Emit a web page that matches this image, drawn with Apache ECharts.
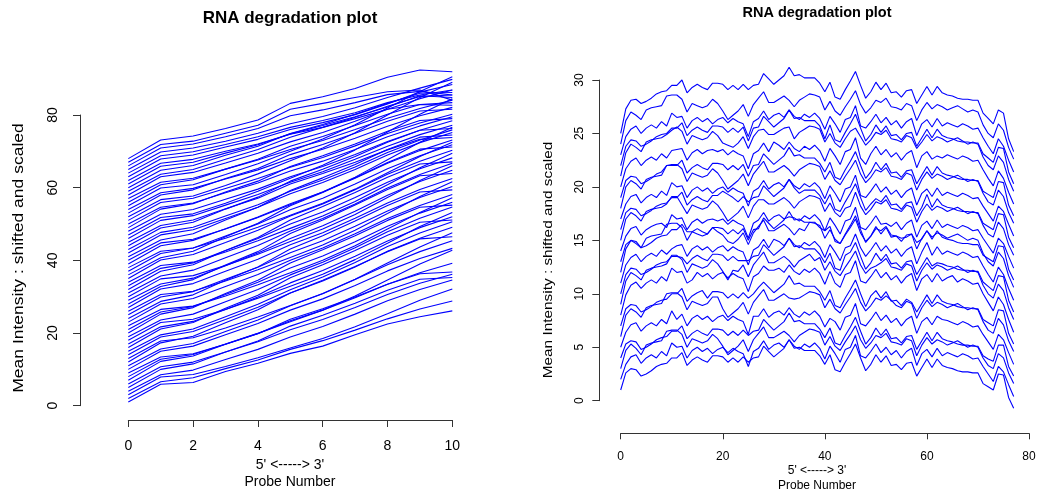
<!DOCTYPE html>
<html>
<head>
<meta charset="utf-8">
<script src="https://cdn.jsdelivr.net/npm/echarts@6/dist/echarts.min.js"></script>
<style>
html, body { margin: 0; padding: 0; background: #ffffff; }
#chart { width: 1039px; height: 492px; }
</style>
</head>
<body>
<div id="chart"></div>
<script>
// Probe positions (5' -> 3') for the two arrays
const probeLeft = [0, 1, 2, 3, 4, 5, 6, 7, 8, 9, 10];
const probeRight = [0, 1, 2, 3, 4, 5, 6, 7, 8, 9, 10, 11, 12, 13, 14, 15, 16, 17, 18, 19, 20, 21, 22, 23, 24, 25, 26, 27, 28, 29, 30, 31, 32, 33, 34, 35, 36, 37, 38, 39, 40, 41, 42, 43, 44, 45, 46, 47, 48, 49, 50, 51, 52, 53, 54, 55, 56, 57, 58, 59, 60, 61, 62, 63, 64, 65, 66, 67, 68, 69, 70, 71, 72, 73, 74, 75, 76, 77];

// Tick values
const leftXTicks = [0, 2, 4, 6, 8, 10];
const leftYTicks = [0, 20, 40, 60, 80];
const rightXTicks = [0, 20, 40, 60, 80];
const rightYTicks = [0, 5, 10, 15, 20, 25, 30];

// Text
const plotTitle = 'RNA degradation plot';
const xLabelArrow = "5' <-----> 3'";
const xLabelName = 'Probe Number';
const yLabelName = 'Mean Intensity : shifted and scaled';

// Shifted and scaled mean intensity per sample (one row per array, 11 probes)
const linesLeft = [
  [1, 5.9, 6.4, 9.4, 11.7, 14.4, 16.4, 19.5, 22.5, 24.5, 26.1],
  [2, 6.6, 7.7, 10.2, 12.6, 15.5, 17.9, 20.8, 23.9, 26.6, 28.8],
  [3, 7.9, 8.6, 10.8, 13.2, 15.9, 18.5, 21.7, 25.3, 29.0, 32.1],
  [4, 8.5, 9.8, 12.7, 15.5, 18.9, 21.8, 25.2, 28.9, 32.0, 34.6],
  [5, 10.0, 11.5, 14.8, 17.8, 21.9, 24.9, 28.2, 31.8, 34.8, 35.3],
  [6, 10.7, 12.0, 14.8, 17.6, 20.9, 23.7, 27.0, 30.6, 33.7, 36.2],
  [7, 12.2, 13.7, 16.9, 19.8, 23.8, 26.7, 29.9, 33.4, 36.3, 36.8],
  [8, 12.8, 14.1, 17.0, 19.9, 23.4, 26.3, 29.7, 33.4, 36.6, 39.2],
  [9, 13.4, 14.3, 16.9, 19.9, 23.1, 26.3, 30.2, 34.6, 39.0, 42.8],
  [10, 15.0, 16.4, 19.5, 22.6, 26.3, 29.4, 33.1, 37.1, 40.5, 43.3],
  [11, 15.6, 17.1, 20.4, 23.6, 27.5, 30.8, 34.7, 38.8, 42.4, 45.4],
  [12, 17.3, 19.1, 22.8, 26.4, 31.0, 34.5, 38.3, 42.4, 45.9, 46.5],
  [13, 17.8, 18.7, 21.4, 24.4, 27.6, 30.9, 34.8, 39.3, 43.7, 47.6],
  [14, 18.9, 20.4, 23.7, 27.1, 31.0, 34.3, 38.2, 42.5, 46.1, 49.1],
  [15, 19.5, 21.1, 24.5, 27.9, 31.9, 35.4, 39.4, 43.8, 47.5, 50.6],
  [16, 21.1, 22.9, 26.8, 30.4, 35.2, 38.8, 42.7, 46.9, 50.5, 51.1],
  [17, 21.7, 23.2, 26.5, 29.9, 33.8, 37.2, 41.1, 45.3, 49.0, 52.0],
  [18, 22.9, 23.8, 26.5, 29.6, 32.9, 36.2, 40.2, 44.7, 49.3, 53.2],
  [19, 23.6, 25.2, 28.6, 32.0, 36.0, 39.5, 43.5, 47.9, 51.6, 54.7],
  [20, 25.2, 27.0, 30.9, 34.5, 39.3, 42.9, 46.8, 51.0, 54.6, 55.2],
  [21, 25.8, 27.3, 30.6, 34.0, 37.9, 41.2, 45.1, 49.4, 53.0, 56.0],
  [22, 26.5, 27.4, 30.2, 33.3, 36.6, 40.0, 44.0, 48.6, 53.2, 57.2],
  [23, 28.0, 29.5, 32.8, 36.1, 40.0, 43.4, 47.3, 51.5, 55.1, 58.1],
  [24, 28.7, 30.5, 34.5, 38.2, 43.1, 46.8, 50.8, 55.1, 58.8, 59.4],
  [25, 29.9, 31.4, 34.8, 38.1, 42.1, 45.4, 49.4, 53.6, 57.3, 60.3],
  [26, 30.6, 31.5, 34.3, 37.4, 40.8, 44.2, 48.3, 52.9, 57.6, 61.6],
  [27, 32.1, 33.6, 37.0, 40.3, 44.3, 47.6, 51.6, 55.8, 59.5, 62.5],
  [28, 32.8, 34.7, 38.7, 42.4, 47.4, 51.1, 55.2, 59.5, 63.3, 63.9],
  [29, 33.5, 35.1, 38.5, 42.0, 46.0, 49.5, 53.5, 57.9, 61.7, 64.8],
  [30, 34.9, 35.8, 38.6, 41.7, 45.2, 48.6, 52.6, 57.3, 62.0, 66.0],
  [31, 35.7, 37.3, 40.7, 44.1, 48.1, 51.5, 55.5, 59.9, 63.6, 66.7],
  [32, 37.0, 38.8, 42.7, 46.3, 51.1, 54.8, 58.7, 62.9, 66.5, 67.1],
  [33, 37.8, 39.3, 42.7, 46.0, 50.0, 53.3, 57.3, 61.5, 65.2, 68.2],
  [34, 38.6, 39.5, 42.3, 45.4, 48.8, 52.2, 56.2, 60.8, 65.5, 69.5],
  [35, 40.1, 41.6, 44.9, 48.3, 52.2, 55.5, 59.4, 63.7, 67.3, 70.3],
  [36, 40.7, 42.5, 46.5, 50.2, 55.0, 58.7, 62.7, 66.9, 70.6, 71.2],
  [37, 41.9, 43.4, 46.7, 50.0, 53.9, 57.1, 61.0, 65.2, 68.8, 71.8],
  [38, 42.5, 43.4, 46.1, 49.1, 52.4, 55.7, 59.6, 64.1, 68.6, 72.5],
  [39, 44.0, 45.5, 48.7, 51.9, 55.6, 58.8, 62.6, 66.7, 70.2, 73.1],
  [40, 44.8, 45.8, 48.6, 51.8, 55.3, 58.8, 62.9, 67.7, 72.5, 76.6],
  [41, 45.6, 47.3, 51.1, 54.6, 59.2, 62.7, 66.4, 70.5, 73.9, 74.5],
  [42, 47.0, 48.4, 51.5, 54.6, 58.3, 61.4, 65.0, 69.0, 72.4, 75.2],
  [43, 47.7, 49.1, 52.2, 55.3, 59.0, 62.1, 65.7, 69.7, 73.1, 75.9],
  [44, 48.9, 50.5, 54.1, 57.4, 61.8, 65.1, 68.6, 72.5, 75.8, 76.3],
  [45, 49.6, 51.1, 54.2, 57.1, 61.0, 63.9, 67.0, 70.4, 73.3, 73.8],
  [46, 51.0, 52.3, 55.2, 58.1, 61.5, 64.4, 67.8, 71.4, 74.6, 77.2],
  [47, 51.8, 52.8, 55.7, 59.0, 62.6, 66.2, 70.4, 75.3, 80.2, 84.5],
  [48, 52.7, 54.0, 56.8, 59.6, 63.0, 65.8, 69.1, 72.7, 75.8, 78.4],
  [49, 54.1, 55.6, 58.8, 61.8, 65.8, 68.8, 72.0, 75.5, 78.5, 79.0],
  [50, 54.6, 55.8, 58.6, 61.3, 64.6, 67.3, 70.5, 74.0, 77.0, 79.5],
  [51, 55.9, 57.1, 59.8, 62.5, 65.6, 68.3, 71.5, 74.9, 77.8, 80.2],
  [52, 56.7, 57.7, 60.6, 63.8, 67.4, 70.9, 75.1, 80.0, 84.8, 89.0],
  [53, 58.0, 59.4, 62.5, 65.3, 69.1, 71.9, 75.0, 78.3, 81.1, 81.6],
  [54, 58.6, 59.8, 62.4, 64.9, 68.0, 70.6, 73.6, 76.9, 79.8, 82.1],
  [55, 59.9, 60.8, 63.6, 66.6, 70.0, 73.4, 77.3, 81.9, 86.5, 90.5],
  [56, 60.8, 62.2, 65.1, 67.8, 71.4, 74.1, 77.1, 80.2, 82.9, 83.4],
  [57, 61.5, 62.6, 65.1, 67.6, 70.5, 73.0, 76.0, 79.1, 81.8, 84.1],
  [58, 63.0, 64.2, 66.8, 69.5, 72.6, 75.2, 78.3, 81.6, 84.5, 86.9],
  [59, 63.7, 65.0, 67.8, 70.5, 73.9, 76.6, 79.4, 82.4, 85.1, 85.5],
  [60, 64.8, 66.1, 68.9, 71.4, 74.9, 77.4, 80.2, 83.2, 86.0, 86.2],
  [61, 65.9, 67.0, 69.5, 71.8, 74.8, 77.1, 79.5, 82.2, 85.3, 84.8],
  [62, 66.7, 67.8, 70.0, 72.0, 74.7, 76.6, 79.0, 81.6, 82.9, 82.7],
  [63, 67.9, 69.0, 71.2, 73.3, 76.0, 77.9, 80.1, 83.0, 86.3, 88.4],
  [64, 68.8, 69.9, 71.9, 74.0, 76.6, 78.5, 80.6, 83.4, 85.5, 86.9],
  [65, 69.8, 70.9, 72.8, 75.0, 77.6, 79.6, 82.0, 84.8, 87.4, 89.8],
  [66, 70.9, 72.0, 74.0, 76.3, 79.8, 81.4, 83.4, 85.6, 86.5, 85.5],
  [67, 71.9, 72.8, 75.0, 77.2, 81.6, 83.2, 84.8, 86.4, 86.9, 84.1],
  [68, 73.1, 74.2, 76.3, 78.6, 83.2, 85.0, 87.3, 90.4, 92.4, 91.9]
];

// Shifted and scaled mean intensity per sample (one row per array, 78 probes)
const linesRight = [
  [1, 2.6, 3.0, 2.9, 2.3, 2.5, 2.8, 3.2, 3.4, 3.5, 4.0, 4.0, 4.5, 3.3, 3.8, 4.1, 3.8, 3.6, 4.2, 4.2, 4.1, 3.6, 4.0, 3.6, 4.1, 3.6, 4.0, 4.1, 5.1, 4.6, 4.1, 4.5, 4.9, 5.7, 4.9, 5.0, 4.7, 4.7, 4.7, 4.2, 3.4, 4.3, 2.9, 2.7, 3.6, 4.4, 5.3, 4.0, 2.8, 3.4, 4.3, 3.6, 4.2, 3.3, 3.4, 2.9, 3.5, 3.6, 2.3, 3.1, 3.9, 3.1, 3.9, 3.3, 3.1, 3.0, 2.8, 2.7, 2.7, 2.6, 2.6, 1.6, 1.3, 1.0, 2.5, 2.4, 0.3, -0.7],
  [2, 3.4, 4.1, 4.3, 3.5, 4.0, 4.3, 4.0, 4.6, 4.2, 5.4, 5.0, 5.1, 4.0, 4.7, 5.0, 4.6, 4.9, 4.4, 4.8, 5.0, 4.5, 4.9, 4.6, 4.4, 3.2, 4.6, 4.9, 5.6, 4.8, 5.2, 5.4, 5.0, 5.7, 5.1, 4.8, 5.3, 5.0, 5.4, 4.9, 3.9, 5.1, 4.4, 3.6, 4.8, 5.0, 6.1, 4.2, 4.0, 4.6, 5.3, 4.5, 5.0, 4.3, 4.7, 4.0, 4.6, 4.9, 3.3, 4.4, 4.8, 4.1, 4.9, 4.2, 4.5, 4.3, 4.1, 4.4, 4.2, 3.9, 4.0, 3.2, 2.5, 1.8, 3.2, 2.7, 1.5, 0.4],
  [3, 4.7, 5.3, 4.9, 4.3, 5.2, 5.4, 5.5, 5.6, 6.5, 6.6, 6.6, 6.2, 5.0, 5.8, 5.6, 5.4, 5.6, 6.2, 5.8, 5.1, 4.3, 4.7, 5.1, 5.7, 4.6, 5.7, 6.3, 6.9, 5.9, 5.9, 6.2, 6.5, 6.1, 5.5, 6.1, 6.4, 6.7, 6.6, 6.4, 5.2, 6.0, 5.1, 4.7, 5.5, 6.2, 7.0, 5.7, 4.9, 5.4, 6.1, 5.9, 6.3, 5.5, 5.4, 5.2, 5.8, 5.6, 4.2, 5.2, 5.9, 5.3, 5.7, 5.5, 5.2, 5.4, 5.6, 5.3, 5.0, 5.2, 5.0, 4.0, 3.3, 3.0, 4.4, 4.0, 2.6, 1.6],
  [4, 5.3, 5.6, 5.5, 4.8, 5.0, 5.3, 5.7, 5.9, 6.0, 6.5, 6.5, 7.0, 5.8, 6.3, 6.6, 6.3, 6.1, 6.7, 6.7, 6.6, 6.1, 6.5, 6.1, 6.6, 6.1, 6.5, 6.6, 7.6, 7.1, 6.6, 7.0, 7.4, 8.2, 7.4, 7.5, 7.2, 7.2, 7.2, 6.7, 5.9, 6.8, 5.4, 5.2, 6.1, 6.9, 7.8, 6.5, 5.3, 5.9, 6.8, 6.1, 6.7, 5.8, 5.9, 5.4, 6.0, 6.1, 4.8, 5.6, 6.4, 5.6, 6.4, 5.8, 5.6, 5.5, 5.3, 5.2, 5.2, 5.1, 5.1, 4.2, 3.9, 3.7, 5.2, 5.2, 3.2, 2.3],
  [5, 6.4, 7.1, 7.3, 6.5, 7.0, 7.3, 7.0, 7.6, 7.2, 8.4, 7.6, 8.1, 7.0, 7.7, 8.0, 7.6, 7.9, 7.4, 7.8, 8.0, 7.5, 7.9, 7.6, 7.4, 6.2, 7.9, 7.9, 8.6, 7.8, 8.2, 8.4, 8.0, 8.7, 8.1, 7.8, 8.3, 8.0, 8.4, 7.9, 6.9, 7.7, 7.4, 6.6, 7.8, 8.0, 9.1, 7.2, 7.0, 7.6, 8.3, 7.5, 8.0, 7.3, 7.7, 7.0, 7.6, 7.9, 6.3, 7.4, 7.8, 7.1, 7.9, 7.6, 7.5, 7.3, 7.1, 7.4, 7.2, 6.9, 7.0, 6.2, 5.5, 4.8, 6.2, 5.7, 4.5, 3.4],
  [6, 8.0, 8.6, 8.3, 7.8, 8.7, 8.9, 9.0, 9.1, 10.0, 10.1, 10.1, 9.7, 8.5, 9.3, 9.1, 8.9, 9.1, 9.7, 9.7, 8.6, 7.8, 8.2, 8.6, 9.2, 8.1, 9.2, 9.8, 10.4, 9.4, 9.4, 9.7, 10.0, 9.6, 9.5, 9.6, 9.9, 10.2, 10.1, 9.9, 8.7, 9.5, 8.6, 8.2, 9.0, 9.7, 10.5, 9.2, 8.4, 8.9, 9.6, 9.4, 9.8, 9.4, 8.9, 8.7, 9.3, 9.1, 7.7, 8.7, 9.4, 8.8, 9.2, 9.0, 8.7, 8.9, 9.1, 8.8, 8.5, 8.7, 8.5, 7.4, 6.6, 6.3, 7.7, 7.1, 5.6, 4.6],
  [7, 8.6, 9.0, 8.9, 8.3, 8.5, 8.8, 9.2, 9.4, 9.5, 10.0, 10.0, 10.5, 9.3, 9.8, 10.1, 10.3, 9.6, 10.2, 10.2, 10.1, 9.6, 10.0, 9.6, 10.1, 9.6, 10.0, 10.6, 11.1, 10.6, 10.1, 10.5, 10.9, 11.7, 10.9, 11.0, 10.7, 10.7, 10.7, 10.2, 9.4, 10.3, 8.9, 8.7, 9.6, 10.4, 11.3, 10.0, 8.8, 9.8, 10.3, 9.6, 10.2, 9.3, 9.4, 8.9, 9.5, 9.2, 8.3, 9.1, 9.9, 9.1, 9.9, 9.3, 9.1, 9.0, 8.8, 8.7, 8.7, 8.6, 8.6, 7.6, 7.3, 7.0, 8.5, 8.4, 6.3, 5.3],
  [8, 9.9, 10.8, 11.1, 10.5, 11.0, 11.3, 11.0, 11.6, 11.2, 12.4, 12.0, 12.1, 11.0, 11.3, 12.0, 11.6, 11.9, 11.4, 11.8, 12.0, 11.5, 11.9, 11.6, 11.4, 10.2, 11.6, 11.9, 12.6, 12.2, 12.2, 12.4, 12.0, 12.7, 12.1, 11.8, 12.3, 12.0, 12.4, 11.9, 10.9, 12.1, 11.0, 10.6, 11.8, 12.0, 13.1, 11.2, 11.0, 11.6, 12.3, 11.5, 12.0, 11.3, 11.7, 11.0, 11.6, 11.9, 10.3, 11.4, 11.8, 11.1, 11.9, 11.2, 11.5, 11.7, 11.1, 11.4, 11.2, 10.9, 11.0, 10.0, 9.2, 8.4, 9.7, 9.0, 7.6, 6.4],
  [9, 11.2, 12.0, 11.7, 11.3, 12.2, 12.4, 12.5, 12.6, 12.8, 13.6, 13.6, 13.2, 12.0, 12.8, 12.6, 12.4, 12.6, 13.2, 12.8, 12.1, 11.3, 12.2, 12.1, 12.7, 11.6, 12.7, 13.3, 13.9, 12.9, 12.9, 13.2, 13.5, 13.1, 12.5, 13.1, 13.4, 13.7, 13.1, 13.4, 12.2, 13.0, 12.1, 11.7, 12.5, 13.2, 14.0, 12.7, 11.9, 12.4, 12.6, 12.9, 13.3, 12.5, 12.4, 12.2, 12.8, 12.6, 11.2, 12.2, 12.9, 12.3, 12.7, 12.5, 12.2, 12.4, 12.6, 12.3, 12.0, 12.2, 12.0, 10.8, 10.0, 9.6, 10.9, 10.3, 8.7, 7.6],
  [10, 11.8, 12.4, 12.3, 11.8, 12.0, 12.3, 12.7, 12.9, 13.0, 13.5, 13.5, 13.4, 12.8, 13.3, 13.6, 13.3, 13.1, 13.7, 13.7, 13.6, 13.1, 13.5, 13.1, 13.1, 13.1, 13.5, 13.6, 14.6, 14.1, 13.6, 14.0, 14.4, 15.2, 14.4, 14.5, 14.2, 14.2, 14.2, 13.7, 12.9, 13.8, 12.4, 12.2, 13.6, 13.9, 14.8, 13.5, 12.3, 12.9, 13.8, 13.1, 13.7, 12.8, 12.9, 12.4, 13.0, 13.1, 11.8, 12.6, 13.4, 12.6, 12.9, 12.8, 12.6, 12.5, 12.3, 12.2, 12.2, 12.1, 12.1, 11.1, 10.7, 10.3, 11.7, 11.6, 9.4, 8.3],
  [11, 12.7, 13.4, 13.7, 13.0, 13.5, 13.8, 13.5, 14.1, 13.7, 14.2, 14.5, 14.6, 13.5, 14.2, 14.5, 14.1, 14.4, 13.9, 14.3, 14.5, 14.0, 14.4, 14.1, 13.9, 12.7, 14.1, 14.4, 15.1, 14.3, 15.1, 14.9, 14.5, 15.2, 14.6, 14.3, 14.8, 14.5, 14.9, 14.4, 13.4, 14.6, 13.9, 13.1, 14.3, 14.5, 15.6, 14.3, 13.5, 14.1, 14.8, 14.0, 14.5, 13.8, 14.2, 13.5, 14.1, 14.4, 12.8, 13.9, 14.8, 13.6, 14.4, 13.7, 14.0, 13.8, 13.6, 13.9, 13.7, 13.4, 13.5, 12.6, 11.8, 11.1, 12.5, 11.8, 10.5, 9.4],
  [12, 14.2, 15.0, 14.7, 14.3, 15.2, 15.4, 15.5, 15.6, 16.5, 16.6, 16.6, 16.2, 15.0, 15.8, 15.6, 15.4, 15.6, 16.2, 15.8, 15.5, 14.9, 14.7, 15.1, 15.7, 14.6, 15.7, 16.3, 16.9, 15.9, 15.9, 16.2, 16.5, 16.1, 15.5, 16.1, 15.9, 16.7, 16.6, 16.4, 15.2, 16.0, 15.1, 14.7, 15.5, 16.2, 17.0, 15.7, 14.9, 15.4, 16.1, 15.9, 16.3, 15.5, 15.4, 15.2, 15.3, 15.6, 14.2, 15.2, 15.9, 15.3, 15.7, 15.5, 15.2, 15.4, 15.6, 15.3, 15.0, 15.2, 15.0, 13.8, 13.0, 12.6, 13.9, 13.3, 11.7, 10.6],
  [13, 14.6, 15.0, 14.9, 14.3, 14.5, 14.8, 15.2, 15.4, 15.5, 16.0, 16.0, 16.5, 15.8, 15.8, 16.1, 15.8, 15.6, 16.2, 16.2, 16.1, 15.6, 16.0, 15.6, 16.1, 15.0, 16.0, 16.1, 17.1, 16.6, 16.1, 16.5, 16.9, 17.7, 16.9, 17.0, 16.7, 16.7, 16.7, 16.2, 15.9, 16.3, 14.9, 14.7, 15.6, 16.4, 17.3, 16.0, 14.8, 15.4, 16.3, 15.6, 16.2, 15.3, 15.4, 14.9, 15.5, 15.6, 14.8, 15.1, 15.9, 15.1, 15.9, 15.3, 15.1, 15.0, 14.8, 14.7, 14.7, 14.6, 14.6, 13.6, 13.3, 13.0, 14.5, 14.4, 12.3, 11.3],
  [14, 15.4, 16.1, 16.3, 15.5, 16.0, 16.3, 16.5, 16.6, 16.2, 17.4, 17.0, 17.1, 16.0, 16.7, 17.0, 16.6, 16.9, 17.0, 16.8, 17.0, 16.5, 16.9, 16.6, 16.4, 15.2, 16.6, 16.9, 17.6, 16.8, 17.2, 17.4, 17.0, 17.2, 17.1, 16.8, 17.3, 17.0, 17.4, 16.9, 15.9, 17.1, 16.4, 15.6, 16.8, 17.0, 18.1, 16.2, 16.0, 16.6, 17.3, 16.5, 16.6, 16.3, 16.7, 16.0, 16.6, 16.9, 15.3, 16.4, 16.8, 16.1, 16.9, 16.2, 16.5, 16.3, 16.1, 16.4, 16.2, 15.9, 16.0, 15.2, 14.5, 13.8, 15.2, 14.7, 13.5, 12.4],
  [15, 17.0, 17.6, 17.3, 16.8, 17.7, 17.9, 18.0, 18.1, 18.4, 19.1, 19.1, 18.3, 17.5, 18.3, 18.1, 17.9, 18.1, 18.7, 18.3, 17.6, 16.8, 17.2, 17.6, 18.2, 17.1, 18.2, 18.8, 18.8, 18.4, 18.4, 18.7, 19.0, 18.6, 18.0, 18.6, 18.9, 19.2, 19.1, 18.9, 17.7, 18.5, 17.6, 17.2, 18.0, 18.2, 19.5, 18.2, 17.4, 17.9, 18.6, 18.4, 18.8, 18.0, 17.9, 17.7, 18.3, 18.1, 16.7, 17.7, 18.4, 17.8, 18.2, 18.0, 17.7, 17.9, 18.1, 17.8, 17.5, 17.7, 17.5, 16.4, 15.6, 15.3, 16.7, 16.1, 14.6, 13.6],
  [16, 17.6, 18.0, 17.9, 17.3, 17.5, 17.8, 18.2, 18.4, 18.5, 19.0, 19.0, 19.5, 18.3, 18.8, 19.1, 18.8, 18.6, 19.2, 19.2, 19.6, 19.3, 19.0, 18.6, 19.1, 18.6, 19.0, 19.1, 20.1, 19.6, 19.1, 19.5, 19.9, 20.7, 19.9, 19.4, 19.7, 19.7, 19.7, 19.2, 18.4, 19.3, 17.9, 17.7, 18.6, 19.4, 20.3, 19.0, 17.8, 18.4, 18.9, 18.6, 19.2, 18.3, 18.4, 17.9, 18.5, 18.6, 17.3, 18.1, 19.3, 18.1, 18.9, 18.3, 18.1, 18.0, 17.8, 17.7, 17.7, 17.6, 17.6, 16.6, 16.3, 16.0, 17.5, 17.4, 15.3, 14.3],
  [17, 18.4, 19.1, 19.3, 18.5, 19.0, 19.3, 19.0, 19.6, 19.2, 20.4, 20.0, 20.1, 19.0, 19.7, 20.0, 19.6, 19.9, 19.4, 19.8, 20.0, 19.5, 19.9, 19.6, 19.4, 18.2, 19.6, 19.9, 20.6, 19.8, 20.2, 20.4, 20.0, 20.7, 20.1, 19.8, 20.3, 20.0, 20.4, 19.9, 18.9, 20.1, 19.4, 18.6, 19.8, 20.0, 21.1, 19.2, 19.0, 19.6, 20.3, 19.5, 20.0, 19.3, 19.7, 19.0, 19.6, 19.9, 18.3, 19.4, 19.8, 19.1, 19.9, 19.2, 19.5, 19.3, 19.1, 19.4, 19.2, 18.9, 19.0, 18.2, 17.5, 16.8, 18.2, 17.7, 16.5, 15.4],
  [18, 20.0, 20.6, 20.3, 19.8, 20.7, 20.9, 21.0, 21.1, 22.0, 22.1, 22.1, 21.7, 20.5, 21.3, 21.1, 20.9, 21.1, 21.7, 21.3, 20.6, 19.8, 20.2, 20.6, 21.2, 20.1, 21.2, 21.8, 22.4, 21.4, 21.4, 21.7, 22.0, 21.6, 21.0, 21.6, 21.9, 22.2, 22.1, 21.9, 20.7, 21.5, 20.6, 20.2, 21.0, 21.7, 22.5, 21.2, 20.4, 20.9, 21.6, 21.4, 21.8, 21.0, 20.9, 20.7, 21.3, 21.1, 19.7, 20.7, 21.4, 20.8, 21.2, 21.0, 20.7, 20.9, 21.1, 20.8, 20.5, 20.7, 20.5, 19.4, 18.6, 18.3, 19.7, 19.1, 17.6, 16.6],
  [19, 20.6, 21.0, 20.9, 20.3, 20.5, 20.8, 21.2, 21.4, 22.0, 22.0, 22.0, 22.5, 21.3, 21.8, 22.1, 21.8, 21.6, 22.2, 22.2, 22.1, 21.6, 22.0, 21.6, 22.1, 21.0, 22.0, 22.1, 23.1, 22.6, 22.1, 22.5, 22.9, 23.7, 22.9, 23.0, 22.7, 22.7, 22.7, 22.2, 21.4, 22.3, 20.9, 20.7, 21.6, 22.4, 23.3, 22.0, 20.8, 21.4, 22.3, 21.6, 22.2, 21.3, 21.4, 20.9, 21.5, 21.6, 20.3, 21.1, 21.9, 21.1, 21.9, 21.3, 21.1, 21.0, 20.8, 20.7, 20.7, 20.6, 20.6, 19.6, 19.3, 19.0, 20.5, 20.4, 18.3, 17.3],
  [20, 21.7, 22.4, 22.7, 22.0, 22.5, 22.8, 22.5, 23.1, 22.7, 23.4, 23.5, 23.6, 22.5, 23.2, 23.5, 23.1, 23.4, 23.5, 23.3, 23.5, 23.0, 23.4, 23.1, 22.9, 21.7, 23.1, 23.4, 24.1, 23.3, 24.2, 23.9, 23.5, 24.2, 23.6, 23.3, 23.8, 23.5, 23.9, 23.4, 22.4, 23.6, 22.9, 22.1, 23.3, 23.5, 24.6, 22.7, 22.1, 23.1, 23.8, 23.0, 23.5, 22.8, 23.2, 22.5, 23.1, 23.4, 21.8, 22.9, 23.3, 22.6, 22.9, 22.7, 23.0, 22.8, 22.6, 22.9, 22.7, 22.4, 22.5, 21.6, 20.8, 20.1, 21.5, 20.8, 19.5, 18.4],
  [21, 23.2, 24.0, 23.7, 23.3, 24.2, 24.4, 24.5, 24.6, 24.9, 25.3, 25.6, 25.2, 24.0, 24.8, 24.6, 24.4, 24.6, 25.2, 24.8, 24.1, 23.9, 23.7, 24.1, 24.7, 23.6, 24.7, 25.3, 25.4, 24.9, 24.9, 25.2, 25.5, 25.6, 24.5, 25.1, 25.4, 25.7, 25.6, 25.4, 24.2, 25.0, 24.1, 23.7, 24.5, 25.2, 25.5, 24.7, 23.9, 24.4, 25.1, 24.9, 25.3, 24.5, 24.4, 24.2, 24.8, 24.6, 23.6, 24.2, 24.9, 24.3, 24.7, 24.5, 24.2, 24.4, 24.6, 24.3, 24.0, 24.2, 24.0, 22.8, 22.0, 21.6, 22.9, 22.3, 20.7, 19.6],
  [22, 23.8, 24.4, 24.3, 23.8, 24.0, 24.3, 24.7, 24.9, 25.0, 25.5, 25.5, 26.0, 24.8, 25.3, 25.6, 25.3, 25.1, 25.7, 25.7, 25.6, 25.1, 25.5, 25.1, 25.6, 24.3, 25.5, 25.6, 26.6, 26.1, 25.6, 26.0, 26.4, 27.2, 26.4, 26.5, 26.2, 26.2, 26.2, 25.7, 24.5, 25.8, 24.4, 24.2, 25.1, 25.9, 26.8, 25.5, 24.3, 24.9, 25.8, 25.1, 25.7, 24.8, 24.9, 24.4, 25.0, 25.1, 23.8, 24.6, 25.4, 24.6, 25.4, 24.8, 24.6, 24.5, 24.3, 24.2, 24.2, 24.1, 24.1, 23.1, 22.7, 22.3, 23.7, 23.6, 21.4, 20.3],
  [23, 24.7, 25.4, 25.7, 25.0, 25.5, 25.8, 25.5, 26.1, 25.7, 26.9, 26.5, 26.6, 25.5, 26.2, 26.5, 26.1, 26.4, 25.9, 26.3, 26.5, 26.0, 26.4, 26.1, 25.9, 24.7, 26.1, 26.4, 27.1, 26.3, 26.7, 26.9, 26.5, 27.2, 26.6, 26.3, 26.8, 26.5, 26.9, 26.4, 25.4, 26.6, 25.9, 25.1, 26.3, 26.5, 27.6, 25.7, 25.5, 26.1, 26.8, 26.0, 26.5, 25.8, 26.2, 25.5, 26.1, 26.4, 24.8, 25.9, 26.3, 25.6, 26.4, 25.7, 26.0, 25.8, 25.6, 25.9, 25.7, 25.4, 25.5, 24.6, 23.8, 23.1, 24.5, 23.8, 22.5, 21.4],
  [24, 26.2, 27.0, 26.7, 26.3, 27.2, 27.4, 27.5, 27.6, 28.5, 28.6, 28.6, 28.2, 27.0, 27.8, 27.6, 27.4, 27.6, 28.2, 27.8, 27.1, 26.3, 26.7, 27.1, 27.7, 26.6, 27.7, 28.3, 28.9, 27.9, 27.9, 28.2, 28.5, 28.1, 27.5, 28.1, 28.4, 28.7, 28.6, 28.4, 27.2, 28.0, 27.1, 26.7, 27.5, 28.2, 29.0, 27.7, 26.9, 27.4, 28.1, 27.9, 28.3, 27.5, 27.4, 27.2, 27.8, 27.6, 26.2, 27.2, 27.9, 27.3, 27.7, 27.5, 27.2, 27.4, 27.6, 27.3, 27.0, 27.2, 27.0, 25.8, 25.0, 24.6, 25.9, 25.3, 23.7, 22.6],
  [25, 27.3, 28.1, 28.2, 27.8, 28.0, 28.3, 28.7, 28.9, 29.0, 29.5, 29.5, 30.0, 28.8, 29.3, 29.6, 29.3, 29.1, 29.7, 29.7, 29.6, 29.1, 29.5, 29.1, 29.6, 29.1, 29.5, 29.6, 30.6, 30.1, 29.6, 30.0, 30.4, 31.2, 30.4, 30.5, 30.2, 30.2, 30.2, 29.7, 28.9, 29.8, 28.4, 28.2, 29.1, 29.9, 30.8, 29.5, 28.3, 28.9, 29.8, 29.1, 29.7, 28.8, 28.9, 28.4, 29.0, 29.1, 27.8, 28.6, 29.4, 28.6, 29.4, 28.8, 28.6, 28.5, 28.3, 28.2, 28.2, 28.1, 28.1, 26.9, 26.4, 25.9, 27.2, 26.9, 24.5, 23.3]
];

const FONT = '"Liberation Sans", Arial, Helvetica, sans-serif';
const AXIS_COLOR = '#333333';
const LINE_COLOR = '#0000ff';

function lineSeries(rows, xs, axisIndex) {
  return rows.map(function (vals) {
    return {
      type: 'line',
      xAxisIndex: axisIndex,
      yAxisIndex: axisIndex,
      data: vals.map(function (v, j) { return [xs[j], v]; }),
      symbol: 'none',
      showSymbol: false,
      clip: false,
      silent: true,
      animation: false,
      lineStyle: { color: LINE_COLOR, width: 1.1 },
      emphasis: { disabled: true }
    };
  });
}

function valueAxis(ticks, extra) {
  const base = {
    type: 'value',
    min: ticks[0],
    max: ticks[ticks.length - 1],
    interval: ticks[1] - ticks[0],
    splitLine: { show: false },
    axisLine: { show: true, onZero: false, lineStyle: { color: AXIS_COLOR, width: 1 } },
    axisTick: { show: true, inside: false, length: 7, lineStyle: { color: AXIS_COLOR, width: 1 } }
  };
  return Object.assign(base, extra);
}

const chart = echarts.init(document.getElementById('chart'), null, { renderer: 'canvas' });

chart.setOption({
  animation: false,
  backgroundColor: '#ffffff',
  grid: [
    { left: 128.3, top: 115, width: 324, height: 290.7 },
    { left: 620.7, top: 80, width: 408.3, height: 320.7 }
  ],
  xAxis: [
    valueAxis(leftXTicks, {
      gridIndex: 0, position: 'bottom', offset: 14.3,
      axisLabel: { color: '#000', fontSize: 14, fontFamily: FONT, margin: 19 }
    }),
    valueAxis(rightXTicks, {
      gridIndex: 1, position: 'bottom', offset: 32.6,
      axisTick: { show: true, inside: false, length: 6, lineStyle: { color: AXIS_COLOR, width: 1 } },
      axisLabel: { color: '#000', fontSize: 12, fontFamily: FONT, margin: 17 }
    })
  ],
  yAxis: [
    valueAxis(leftYTicks, {
      gridIndex: 0, position: 'left', offset: 48.3,
      axisLabel: { color: '#000', fontSize: 14, fontFamily: FONT, margin: 20, rotate: 90 }
    }),
    valueAxis(rightYTicks, {
      gridIndex: 1, position: 'left', offset: 21.4,
      axisLabel: { color: '#000', fontSize: 12, fontFamily: FONT, margin: 14, rotate: 90 }
    })
  ],
  graphic: [
    { type: 'text', x: 290, y: 18, silent: true,
      style: { text: plotTitle, font: 'bold 17px ' + FONT, fill: '#000', align: 'center', verticalAlign: 'middle' } },
    { type: 'text', x: 817, y: 13, silent: true,
      style: { text: plotTitle, font: 'bold 14.5px ' + FONT, fill: '#000', align: 'center', verticalAlign: 'middle' } },
    { type: 'text', x: 290, y: 465, silent: true,
      style: { text: xLabelArrow, font: '14px ' + FONT, fill: '#000', align: 'center', verticalAlign: 'middle' } },
    { type: 'text', x: 290, y: 482, silent: true,
      style: { text: xLabelName, font: '14px ' + FONT, fill: '#000', align: 'center', verticalAlign: 'middle' } },
    { type: 'text', x: 817, y: 471, silent: true,
      style: { text: xLabelArrow, font: '12px ' + FONT, fill: '#000', align: 'center', verticalAlign: 'middle' } },
    { type: 'text', x: 817, y: 485.5, silent: true,
      style: { text: xLabelName, font: '12px ' + FONT, fill: '#000', align: 'center', verticalAlign: 'middle' } },
    { type: 'text', x: 19, y: 258, rotation: Math.PI / 2, scaleX: 1.25, silent: true,
      style: { text: yLabelName, font: '14px ' + FONT, fill: '#000', align: 'center', verticalAlign: 'middle' } },
    { type: 'text', x: 549, y: 260, rotation: Math.PI / 2, scaleX: 1.28, silent: true,
      style: { text: yLabelName, font: '12px ' + FONT, fill: '#000', align: 'center', verticalAlign: 'middle' } }
  ],
  series: lineSeries(linesLeft, probeLeft, 0).concat(lineSeries(linesRight, probeRight, 1))
});
</script>
</body>
</html>
